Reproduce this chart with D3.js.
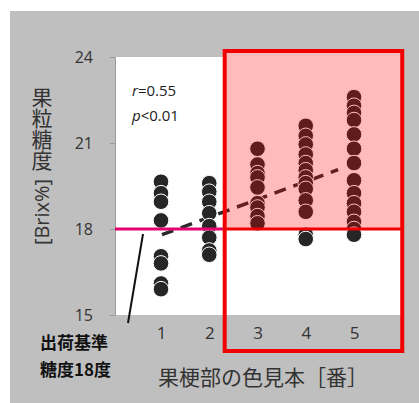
<!DOCTYPE html>
<html>
<head>
<meta charset="utf-8">
<script src="https://cdn.jsdelivr.net/npm/d3@7"></script>
<style>
  html, body { margin: 0; padding: 0; background: #fff; }
  svg { display: block; }
</style>
</head>
<body>
<svg id="chart" width="419" height="403"></svg>
<script>
// Colour-chart grade of the berry stem (x) and berry sugar content in Brix% (y)
const categories = [1, 2, 3, 4, 5];
const grade1 = [19.65, 19.25, 18.95, 18.3, 17.05, 16.8, 16.1, 15.9];
const grade2 = [19.6, 19.3, 18.95, 18.55, 18.1, 17.7, 17.25, 17.1];
const grade3 = [20.8, 20.25, 19.95, 19.8, 19.45, 18.9, 18.75, 18.45, 18.2];
const grade4 = [21.6, 21.25, 20.95, 20.6, 20.3, 20.05, 19.8, 19.6, 19.4, 19.0, 18.6, 17.8, 17.65];
const grade5 = [22.6, 22.3, 22.05, 21.8, 21.3, 20.8, 20.3, 19.7, 19.25, 18.9, 18.6, 18.25, 18.0, 17.8];
const yTicks = [15, 18, 21, 24];
const trendX = [1.02, 4.67];
const trendY = [17.8, 20.07];
const threshold = 18;
const highlightGrades = [2.32, 6];   // grades 3–5 are boxed
const statsLines = [["r", "=0.55"], ["p", "<0.01"]];
const noteLines = ["出荷基準", "糖度18度"];
const xTitle = "果梗部の色見本［番］";
const yTitleMain = "果粒糖度";
const yTitleUnit = "[Brix%]";

const series = [grade1, grade2, grade3, grade4, grade5];
const points = series.flatMap((vals, i) => vals.map(v => ({ x: categories[i], y: v })));

const svg = d3.select("#chart");
const W = 419, H = 403;
const plot = { left: 115, right: 402, top: 57, bottom: 315 };

const x = d3.scaleLinear().domain([0, 6]).range([112.75, 402.25]);
const y = d3.scaleLinear().domain([15, 24]).range([plot.bottom, plot.top]);

// slide background
svg.append("rect").attr("x", 10).attr("y", 11).attr("width", W - 10).attr("height", H - 11)
  .attr("fill", "#bfbfbf");

// plot area
svg.append("rect").attr("x", plot.left).attr("y", plot.top)
  .attr("width", plot.right - plot.left).attr("height", plot.bottom - plot.top)
  .attr("fill", "#ffffff");

const boxX0 = x(highlightGrades[0]), boxX1 = x(highlightGrades[1]);
const boxTop = 51, boxBottom = 351;
// white backing above the plot inside the highlight box
svg.append("rect").attr("x", boxX0).attr("y", boxTop)
  .attr("width", boxX1 - boxX0).attr("height", plot.top - boxTop).attr("fill", "#ffffff");

// y axis
const yAxis = d3.axisLeft(y).tickValues(yTicks).tickSize(5).tickPadding(17);
const gy = svg.append("g").attr("transform", `translate(${plot.left},0)`).call(yAxis);
gy.select(".domain").attr("stroke", "#9a9a9a");
gy.selectAll(".tick line").attr("stroke", "#9a9a9a");
gy.selectAll(".tick text").attr("font-family", "'Open Sans', sans-serif")
  .attr("font-size", 16).attr("fill", "#333");

// x axis labels
const xAxis = d3.axisBottom(x).tickValues(categories).tickFormat(d3.format("d"))
  .tickSize(0).tickPadding(12);
const gx = svg.append("g").attr("transform", `translate(0,${plot.bottom})`).call(xAxis);
gx.select(".domain").remove();
gx.selectAll(".tick text").attr("font-family", "'Open Sans', sans-serif")
  .attr("font-size", 17).attr("fill", "#333");

// trend line
svg.append("line")
  .attr("x1", x(trendX[0])).attr("y1", y(trendY[0]))
  .attr("x2", x(trendX[1])).attr("y2", y(trendY[1]))
  .attr("stroke", "#2a2a2a").attr("stroke-width", 3.5)
  .attr("stroke-dasharray", "12,8");

// sugar readings
svg.append("g").selectAll("circle").data(points).join("circle")
  .attr("cx", d => x(d.x)).attr("cy", d => y(d.y)).attr("r", 7.8)
  .attr("fill", "#262626").attr("stroke", "#ffffff").attr("stroke-width", 1);

// pink tint over grades 3-5 above the threshold
svg.append("rect").attr("x", boxX0).attr("y", boxTop)
  .attr("width", boxX1 - boxX0).attr("height", y(threshold) - boxTop)
  .attr("fill", "rgba(255,0,0,0.27)");

// shipping threshold line
svg.append("line").attr("x1", plot.left).attr("x2", boxX0)
  .attr("y1", y(threshold)).attr("y2", y(threshold))
  .attr("stroke", "#e5006e").attr("stroke-width", 3);
svg.append("line").attr("x1", boxX0).attr("x2", boxX1)
  .attr("y1", y(threshold)).attr("y2", y(threshold))
  .attr("stroke", "#f00000").attr("stroke-width", 3);

// highlight box
svg.append("rect").attr("x", boxX0).attr("y", boxTop)
  .attr("width", boxX1 - boxX0).attr("height", boxBottom - boxTop)
  .attr("fill", "none").attr("stroke", "#f00000").attr("stroke-width", 4);

// leader from the note to the threshold line
svg.append("line").attr("x1", 143).attr("y1", y(threshold) + 5)
  .attr("x2", 128).attr("y2", 323)
  .attr("stroke", "#111").attr("stroke-width", 2);

// statistics
const stats = svg.append("g").attr("font-family", "'Open Sans', sans-serif")
  .attr("font-size", 15).attr("fill", "#222");
statsLines.forEach((s, i) => {
  const t = stats.append("text").attr("x", 132).attr("y", 96 + i * 25);
  t.append("tspan").attr("font-style", "italic").text(s[0]);
  t.append("tspan").text(s[1]);
});

// note
svg.append("g").selectAll("text").data(noteLines).join("text")
  .attr("x", 40).attr("y", (d, i) => 349 + i * 27)
  .attr("font-family", "'Noto Sans CJK JP', sans-serif").attr("font-weight", "bold")
  .attr("font-size", 17).attr("fill", "#111").text(d => d);

// x title
svg.append("text").attr("x", 263).attr("y", 385).attr("text-anchor", "middle")
  .attr("font-family", "'Noto Sans CJK JP', sans-serif").attr("font-size", 21)
  .attr("fill", "#333").text(xTitle);

// y title: upright vertical characters then rotated unit
svg.append("text").attr("x", 42).attr("y", 86.5)
  .style("writing-mode", "vertical-rl")
  .attr("font-family", "'Noto Sans CJK JP', sans-serif").attr("font-size", 21)
  .attr("fill", "#333").text(yTitleMain);
svg.append("text").attr("transform", "translate(42,212) rotate(-90)")
  .attr("text-anchor", "middle").attr("dy", "0.36em")
  .attr("font-family", "'Open Sans', sans-serif").attr("font-size", 20)
  .attr("fill", "#333").text(yTitleUnit);
</script>
</body>
</html>
